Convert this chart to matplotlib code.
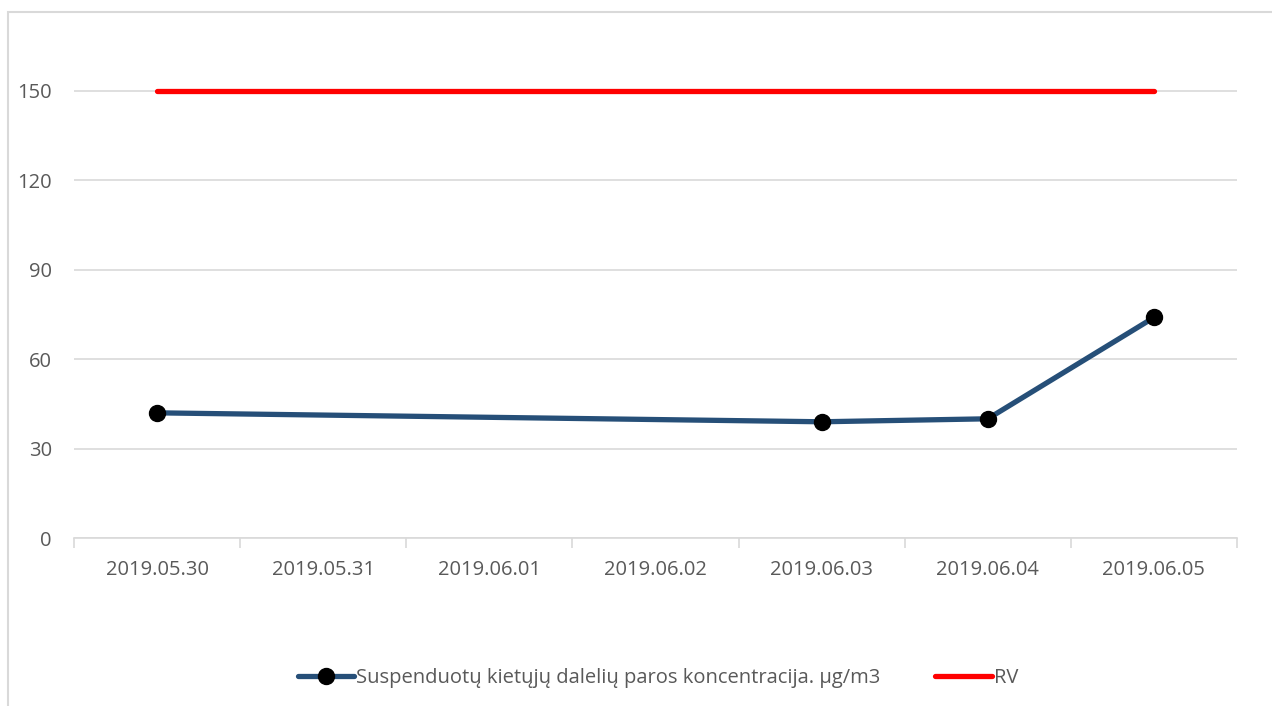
import numpy as np
import matplotlib.pyplot as plt
from matplotlib.patches import Rectangle

dates = ['2019.05.30', '2019.05.31', '2019.06.01', '2019.06.02',
         '2019.06.03', '2019.06.04', '2019.06.05']
concentration = [42, np.nan, np.nan, np.nan, 39, 40, 74]
rv = [150, 150, 150, 150, 150, 150, 150]
yticks = [0, 30, 60, 90, 120, 150]

conc_label = 'Suspenduotų kietųjų dalelių paros koncentracija. µg/m3'
rv_label = 'RV'


def main():
    plt.rcParams['font.family'] = ['Open Sans', 'DejaVu Sans']
    text_color = '#595959'
    grid_color = '#D9D9D9'
    fs = 14.5

    W, H = 1272, 706
    fig = plt.figure(figsize=(W / 100, H / 100), dpi=100)

    # chart border
    fig.patches.append(Rectangle((8 / W, -0.01), 1.1, 1 - 12 / H + 0.01,
                                 transform=fig.transFigure, fill=False,
                                 edgecolor=grid_color, linewidth=1.5))

    left, right, bottom, top = 74, 1237, 538, 12
    ax = fig.add_axes([left / W, 1 - bottom / H, (right - left) / W, (bottom - top) / H])

    x = np.arange(len(dates))
    conc = np.array(concentration, dtype=float)
    ok = ~np.isnan(conc)

    ax.plot(x, rv, color='#FF0000', linewidth=3.8, solid_capstyle='round',
            label=rv_label, zorder=3)
    ax.plot(x[ok], conc[ok], color='#264F78', linewidth=3.8, marker='o',
            markersize=11.5, markerfacecolor='black', markeredgecolor='black',
            solid_capstyle='round', label=conc_label, zorder=4)

    ax.set_xlim(-0.5, len(dates) - 0.5)
    ax.set_ylim(0, (bottom - top) / (89.4 / 30))
    ax.set_yticks(yticks)
    ax.set_yticklabels([str(v) for v in yticks])
    ax.yaxis.grid(True, color=grid_color, linewidth=1.2)
    ax.set_axisbelow(True)
    ax.tick_params(axis='y', length=0, pad=16, labelsize=fs, labelcolor=text_color)

    ax.set_xticks(x)
    ax.set_xticklabels(dates)
    ax.set_xticks(np.arange(len(dates) + 1) - 0.5, minor=True)
    ax.tick_params(axis='x', which='major', length=0, pad=16, labelsize=fs,
                   labelcolor=text_color)
    ax.tick_params(axis='x', which='minor', length=7, width=1.2, color=grid_color)

    for side in ['top', 'right', 'left']:
        ax.spines[side].set_visible(False)
    ax.spines['bottom'].set_color(grid_color)
    ax.spines['bottom'].set_linewidth(1.2)

    handles, labels = ax.get_legend_handles_labels()
    leg = fig.legend(handles[::-1], labels[::-1], loc='center',
                     bbox_to_anchor=(658 / W, 1 - 678 / H), ncol=2, frameon=False,
                     fontsize=fs, handlelength=2.8, handletextpad=0.1,
                     columnspacing=2.7)
    for t in leg.get_texts():
        t.set_color(text_color)

    fig.savefig('out.png', dpi=100)


if __name__ == "__main__":
    main()
